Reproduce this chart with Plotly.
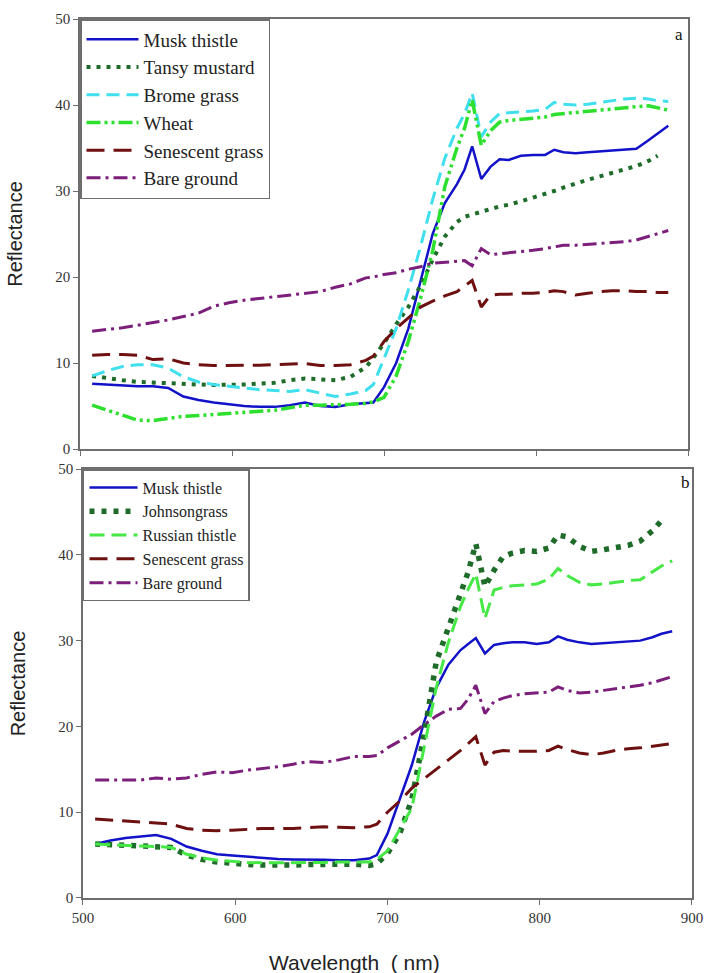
import plotly.graph_objects as go

wavelength = [508, 518, 528, 538, 548, 558, 568, 578, 588, 598, 608, 618, 628, 638, 648, 658, 668, 678, 688, 693,
              700, 708, 716, 724, 732, 740, 748, 753, 758, 764, 770, 776, 782, 790, 798, 806, 812, 818, 826, 834,
              842, 850, 858, 866, 874, 880, 887]

# Panel a
a_musk = [7.6, 7.5, 7.4, 7.3, 7.3, 7.1, 6.1, 5.7, 5.4, 5.2, 5.0, 4.9, 4.9, 5.1, 5.4, 5.0, 4.9, 5.2, 5.3, 5.4,
          7.2, 10.0, 14.0, 19.5, 25.0, 28.6, 30.8, 32.5, 35.2, 31.4, 32.8, 33.7, 33.6, 34.1, 34.2, 34.2, 34.8, 34.5, 34.4, 34.5,
          34.6, 34.7, 34.8, 34.9, 35.9, 36.7, 37.6]
a_tansy = [8.5, 8.2, 8.0, 7.8, 7.7, 7.6, 7.5, 7.5, 7.45, 7.45, 7.5, 7.6, 7.7, 8.0, 8.2, 8.1, 8.0, 8.4, 9.5, 10.6,
           12.3, 14.5, 16.5, 19.0, 22.0, 24.7, 26.4, 27.0, 27.3, 27.6, 27.9, 28.2, 28.4, 28.8, 29.2, 29.7, 30.0, 30.4, 30.9, 31.3,
           31.7, 32.1, 32.5, 32.9, 33.5, 34.1, None]
a_brome = [8.5, 9.1, 9.6, 9.8, 9.8, 9.4, 8.4, 7.8, 7.5, 7.3, 7.1, 6.9, 6.8, 6.7, 6.9, 6.5, 6.1, 6.4, 6.8, 7.5,
           10.5, 14.0, 18.5, 23.5, 29.0, 33.8, 37.3, 39.0, 41.4, 36.3, 38.0, 39.0, 39.1, 39.2, 39.3, 39.5, 40.3, 40.1, 40.0, 40.1,
           40.3, 40.5, 40.7, 40.8, 40.7, 40.5, 40.4]
a_wheat = [5.1, 4.5, 3.9, 3.35, 3.3, 3.6, 3.8, 3.9, 4.0, 4.1, 4.2, 4.3, 4.5, 4.8, 5.1, 5.1, 5.1, 5.2, 5.3, 5.5,
           6.0, 8.5, 12.5, 17.5, 23.0, 30.5, 35.0, 37.3, 40.6, 35.3, 37.0, 38.0, 38.2, 38.3, 38.4, 38.6, 38.9, 39.0, 39.2, 39.3,
           39.5, 39.6, 39.7, 39.8, 39.9, 39.7, 39.4]
a_senescent = [10.9, 11.0, 11.0, 10.9, 10.4, 10.5, 10.0, 9.8, 9.7, 9.7, 9.7, 9.75, 9.8, 9.85, 9.95, 9.7, 9.7, 9.8, 10.3, 10.8,
               12.5, 14.0, 15.3, 16.5, 17.2, 17.8, 18.3, 18.9, 19.6, 16.5, 17.9, 18.0, 18.0, 18.1, 18.1, 18.2, 18.4, 18.3, 17.9, 18.1,
               18.3, 18.4, 18.4, 18.3, 18.3, 18.2, 18.2]
a_bare = [13.7, 13.9, 14.1, 14.4, 14.7, 15.0, 15.4, 15.8, 16.6, 17.0, 17.3, 17.5, 17.7, 17.9, 18.1, 18.3, 18.8, 19.2, 19.9, 20.0,
          20.3, 20.5, 20.9, 21.2, 21.6, 21.7, 21.8, 21.9, 21.3, 23.3, 22.6, 22.7, 22.8, 22.9, 23.1, 23.3, 23.5, 23.7, 23.7, 23.8,
          23.9, 24.0, 24.1, 24.3, 24.7, 25.0, 25.4]

# Panel b
b_musk = [6.3, 6.7, 7.0, 7.2, 7.35, 6.9, 6.0, 5.5, 5.1, 4.95, 4.8, 4.65, 4.55, 4.5, 4.5, 4.45, 4.4, 4.4, 4.6, 5.0,
          7.5, 11.5, 15.5, 20.5, 24.5, 27.2, 28.9, 29.6, 30.3, 28.5, 29.5, 29.7, 29.8, 29.8, 29.6, 29.8, 30.5, 30.1, 29.8, 29.6,
          29.7, 29.8, 29.9, 30.0, 30.4, 30.8, 31.1]
b_johnson = [6.3, 6.2, 6.1, 6.05, 6.0, 5.9, 5.0, 4.5, 4.2, 4.0, 3.9, 3.85, 3.8, 3.85, 3.9, 3.95, 4.0, 3.95, 3.8, 4.0,
             5.2, 7.5, 11.5, 19.0, 27.5, 31.5, 35.5, 38.0, 41.3, 36.3, 38.2, 39.8, 40.2, 40.5, 40.4, 40.8, 42.3, 42.1, 41.0, 40.4,
             40.6, 40.9, 41.1, 41.6, 42.8, 44.0, None]
b_russian = [6.3, 6.2, 6.1, 6.05, 6.0, 5.9, 5.1, 4.7, 4.4, 4.25, 4.15, 4.1, 4.1, 4.1, 4.1, 4.15, 4.2, 4.2, 4.2, 4.5,
             5.5, 8.0, 10.5, 17.5, 24.5, 29.8, 34.0, 36.0, 37.8, 32.6, 35.9, 36.2, 36.4, 36.5, 36.6, 37.2, 38.4, 37.6, 36.8, 36.5,
             36.6, 36.8, 37.0, 37.1, 38.0, 38.7, 39.3]
b_senescent = [9.2, 9.1, 9.0, 8.9, 8.75, 8.6, 8.1, 7.9, 7.85, 7.9, 8.0, 8.1, 8.1, 8.1, 8.2, 8.3, 8.25, 8.2, 8.3, 8.6,
               10.0, 11.3, 12.8, 13.9, 15.0, 16.0, 17.2, 18.0, 18.8, 15.5, 17.0, 17.2, 17.1, 17.1, 17.1, 17.2, 17.7, 17.3, 16.9, 16.7,
               16.9, 17.2, 17.4, 17.5, 17.7, 17.9, 18.0]
b_bare = [13.75, 13.75, 13.75, 13.75, 14.0, 13.85, 14.0, 14.4, 14.7, 14.6, 14.9, 15.1, 15.3, 15.6, 15.9, 15.8, 16.1, 16.5, 16.5, 16.6,
          17.5, 18.3, 19.1, 20.2, 21.2, 22.0, 22.1, 23.2, 24.8, 21.5, 22.9, 23.3, 23.6, 23.8, 23.9, 24.0, 24.6, 24.2, 23.9, 24.0,
          24.2, 24.4, 24.6, 24.8, 25.1, 25.4, 25.8]

x_ticks = [500, 600, 700, 800, 900]
y_ticks = [0, 10, 20, 30, 40, 50]

BLUE = "#1212c8"
DKGREEN = "#1e6b2a"
CYAN = "#3fdfee"
LIME = "#2de02d"
LIME2 = "#45e845"
MAROON = "#6e1010"
PURPLE = "#7b1f7b"

series_a = [
    ("Musk thistle", a_musk, BLUE, 2.5, "solid"),
    ("Tansy mustard", a_tansy, DKGREEN, 4, "4px,6px"),
    ("Brome grass", a_brome, CYAN, 3, "13px,7px"),
    ("Wheat", a_wheat, LIME, 3.5, "14px,4px,3px,4px,3px,4px"),
    ("Senescent grass", a_senescent, MAROON, 3, "18px,9px"),
    ("Bare ground", a_bare, PURPLE, 3, "14px,5px,3px,5px"),
]
series_b = [
    ("Musk thistle", b_musk, BLUE, 2.5, "solid"),
    ("Johnsongrass", b_johnson, DKGREEN, 5.5, "5px,7px"),
    ("Russian thistle", b_russian, LIME2, 3, "15px,7px"),
    ("Senescent grass", b_senescent, MAROON, 3, "18px,9px"),
    ("Bare ground", b_bare, PURPLE, 3, "14px,5px,3px,5px"),
]

fig = go.Figure()
for name, vals, col, w, dash in series_a:
    fig.add_trace(go.Scatter(x=wavelength, y=vals, name=name, mode="lines",
                             line=dict(color=col, width=w, dash=dash),
                             xaxis="x", yaxis="y", legend="legend"))
for name, vals, col, w, dash in series_b:
    fig.add_trace(go.Scatter(x=wavelength, y=vals, name=name, mode="lines",
                             line=dict(color=col, width=w, dash=dash),
                             xaxis="x2", yaxis="y2", legend="legend2"))

FRAME = "#6e6e6e"
serif = "Liberation Serif, Times New Roman, serif"
sans = "Liberation Sans, Arial, sans-serif"

xcommon = dict(range=[500, 900], tickvals=x_ticks, ticks="outside", ticklen=5, tickcolor=FRAME,
               showline=True, linecolor=FRAME, linewidth=1.5, mirror=True, showgrid=False, zeroline=False,
               ticklabeloverflow="allow", automargin=False,
               tickfont=dict(family=serif, size=15, color="#333"))
ycommon = dict(range=[0, 50], tickvals=y_ticks, ticks="outside", ticklen=5, tickcolor=FRAME,
               showline=True, linecolor=FRAME, linewidth=1.5, mirror=True, showgrid=False, zeroline=False,
               automargin=False,
               tickfont=dict(family=serif, size=15, color="#333"),
               title=dict(text="Reflectance", font=dict(family=sans, size=20, color="#222"), standoff=27))

# plot area: x 80..692 px, y 19..898 px
top_xdom = [0.0, 0.9935]
bot_xdom = [0.0049, 1.0]
top_ydom = [0.5108, 1.0]
bot_ydom = [0.0, 0.488]

legcommon = dict(xanchor="left", yanchor="top", bgcolor="white", bordercolor=FRAME, borderwidth=1.5,
                 traceorder="normal", itemclick=False)

fig.update_layout(
    width=706, height=973,
    margin=dict(l=80, r=14, t=19, b=75),
    paper_bgcolor="white", plot_bgcolor="white",
    xaxis=dict(xcommon, anchor="y", domain=top_xdom, showticklabels=False),
    yaxis=dict(ycommon, anchor="x", domain=top_ydom),
    xaxis2=dict(xcommon, anchor="y2", domain=bot_xdom),
    yaxis2=dict(ycommon, anchor="x2", domain=bot_ydom),
    legend=dict(legcommon, x=0, y=1, font=dict(family=serif, size=19, color="#222"),
                itemwidth=52, entrywidth=205),
    legend2=dict(legcommon, x=bot_xdom[0], y=bot_ydom[1], font=dict(family=serif, size=16, color="#222"),
                 itemwidth=48, entrywidth=175),
    showlegend=True,
    annotations=[
        dict(text="a", x=0.979, y=0.982, xref="paper", yref="paper", xanchor="center", yanchor="middle",
             showarrow=False, font=dict(family=serif, size=17, color="#111")),
        dict(text="b", x=0.989, y=0.473, xref="paper", yref="paper", xanchor="center", yanchor="middle",
             showarrow=False, font=dict(family=serif, size=17, color="#111")),
        dict(text="Wavelength\u00a0\u00a0( nm)", x=0.448, y=0, xref="paper", yref="paper",
             xanchor="center", yanchor="middle", yshift=-64, showarrow=False,
             font=dict(family=sans, size=21, color="#222")),
    ],
)

fig.write_html("out.html", config={"displayModeBar": False},
               post_script="document.body.style.margin='0';")
